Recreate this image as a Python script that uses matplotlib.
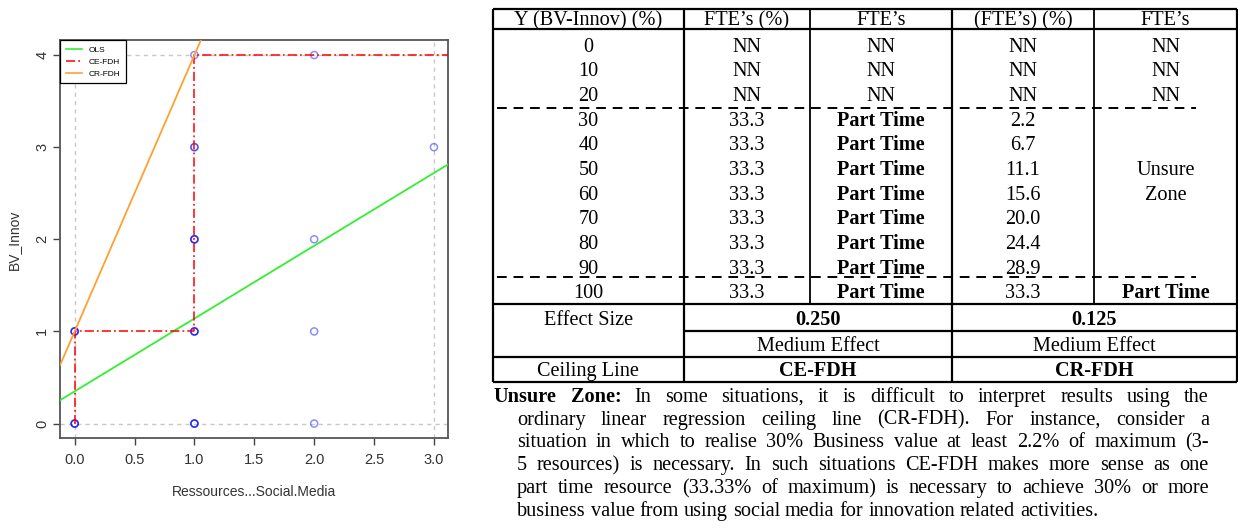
import matplotlib
matplotlib.use("Agg")
import matplotlib.pyplot as plt
from matplotlib.lines import Line2D

# ---------------- data ----------------
# scatter observations (repeats = overplotted observations)
res_x = [0, 0, 0, 0, 0, 0, 1, 1, 1, 1, 1, 1, 1, 1, 1, 1, 1, 1, 2, 2, 2, 2, 3]
bv_y  = [0, 0, 0, 1, 1, 1, 0, 0, 0, 1, 1, 1, 2, 2, 2, 3, 3, 4, 0, 1, 2, 4, 3]

ols_intercept, ols_slope = 0.35, 0.79
cr_intercept, cr_slope = 1.0, 3.0
ce_x = [0, 0, 1, 1, 3.2]
ce_y = [0, 1, 1, 4, 4]
scope_x = [0, 3]
scope_y = [0, 4]

x_ticks = [0.0, 0.5, 1.0, 1.5, 2.0, 2.5, 3.0]
y_ticks = [0, 1, 2, 3, 4]

# table
headers = ["Y (BV-Innov) (%)", "FTE\u2019s (%)", "FTE\u2019s", "(FTE\u2019s) (%)", "FTE\u2019s"]
y_levels = [0, 10, 20, 30, 40, 50, 60, 70, 80, 90, 100]
ce_fte_pct = [None, None, None, 33.3, 33.3, 33.3, 33.3, 33.3, 33.3, 33.3, 33.3]
ce_fte = ["NN", "NN", "NN", "Part Time", "Part Time", "Part Time", "Part Time",
          "Part Time", "Part Time", "Part Time", "Part Time"]
cr_fte_pct = [None, None, None, 2.2, 6.7, 11.1, 15.6, 20.0, 24.4, 28.9, 33.3]
cr_fte = ["NN", "NN", "NN", "", "", "", "", "", "", "", "Part Time"]
effect_sizes = [0.250, 0.125]
effect_labels = ["Medium Effect", "Medium Effect"]
ceiling_lines = ["CE-FDH", "CR-FDH"]

note_lines = [
    "Unsure Zone: In some situations, it is difficult to interpret results using the",
    "ordinary linear regression ceiling line (CR-FDH). For instance, consider a",
    "situation in which to realise 30% Business value at least 2.2% of maximum (3-",
    "5 resources) is necessary. In such situations CE-FDH makes more sense as one",
    "part time resource (33.33% of maximum) is necessary to achieve 30% or more",
    "business value from using social media for innovation related activities.",
]

# ---------------- figure ----------------
W, H = 1238, 529
fig = plt.figure(figsize=(W / 100, H / 100), dpi=100)
fig.patch.set_facecolor("white")

SANS = ["Liberation Sans", "DejaVu Sans"]
SERIF = ["Liberation Serif", "DejaVu Serif"]

# plot axes: pixel box left 60, right 448, top 40, bottom 438
ax = fig.add_axes([60.3 / W, 1 - 438.3 / H, 388 / W, 398 / H])
ax.set_xlim(-0.12, 3.12)
ax.set_ylim(-0.16, 4.16)

for sx in scope_x:
    ax.axvline(sx, color="#c8c8c8", lw=1.0, ls=(0, (3, 3)), zorder=1)
for sy in scope_y:
    ax.axhline(sy, color="#c8c8c8", lw=1.0, ls=(0, (3, 3)), zorder=1)

ax.scatter(res_x, bv_y, s=26, facecolors="none", edgecolors="#0000ff",
           alpha=0.45, linewidths=1.1, zorder=3)

ax.axline((0, ols_intercept), slope=ols_slope, color="#33ee33", lw=1.3, zorder=4)
ax.plot(ce_x, ce_y, color="#ff0000", lw=1.1, ls=(0, (6, 2, 1.2, 2)), zorder=4)
ax.axline((0, cr_intercept), slope=cr_slope, color="#ffa033", lw=1.3, zorder=4)

ax.set_xticks(x_ticks)
ax.set_xticklabels([f"{v:.1f}" for v in x_ticks], fontfamily=SANS, fontsize=10.5, color="#333333")
ax.set_yticks(y_ticks)
ax.set_yticklabels([str(v) for v in y_ticks], fontfamily=SANS, fontsize=10.5,
                   color="#333333", rotation=90, va="center")
ax.tick_params(axis="both", length=5, width=1, color="#444444")
ax.tick_params(axis="x", pad=5.5)
ax.tick_params(axis="y", pad=3)
for sp in ax.spines.values():
    sp.set_color("#555555")
    sp.set_linewidth(1.3)

ax.set_xlabel("Ressources...Social.Media", fontfamily=SANS, fontsize=10, color="#333333")
ax.set_ylabel("BV_Innov", fontfamily=SANS, fontsize=10, color="#333333")
ax.xaxis.set_label_coords(0.5, -0.118)
ax.yaxis.set_label_coords(-0.102, 0.498)

handles = [Line2D([], [], color="#33ee33", lw=1.2),
           Line2D([], [], color="#ff0000", lw=1.1, ls=(0, (6, 2, 1.2, 2))),
           Line2D([], [], color="#ffa033", lw=1.2)]
leg = ax.legend(handles, ["OLS", "CE-FDH", "CR-FDH"], loc="upper left",
                bbox_to_anchor=(0, 1), borderaxespad=0, fancybox=False,
                edgecolor="black", framealpha=1, handlelength=2.0,
                prop={"family": SANS, "size": 6.0}, labelspacing=0.5,
                borderpad=0.65, handletextpad=0.8)
leg.get_frame().set_linewidth(0.9)

# ---------------- table overlay (pixel coordinates) ----------------
ov = fig.add_axes([0, 0, 1, 1])
ov.set_xlim(0, W)
ov.set_ylim(H, 0)
ov.axis("off")
ov.patch.set_alpha(0)

xL, c1, c2, c3, c4, xR = 492.7, 684, 810, 952, 1094, 1237
yT, yHead, y100, yMid, yCeil, yB = 9, 29, 304, 331, 357, 382

def hline(y, x0, x1, lw=1.6, ls="-"):
    ov.plot([x0, x1], [y, y], color="black", lw=lw, ls=ls, solid_capstyle="butt")

def vline(x, y0, y1, lw=1.6):
    ov.plot([x, x], [y0, y1], color="black", lw=lw, solid_capstyle="butt")

for y in (yT, yHead, y100, yCeil, yB):
    hline(y, xL, xR)
hline(yMid, c1, xR)
for x in (xL, c1, c3, xR):
    vline(x, yT, yB)
for x in (c2, c4):
    vline(x, yT, y100, lw=1.3)
hline(107.5, 497, 1196, lw=1.4, ls=(0, (5, 3.5)))
hline(277, 497, 1196, lw=1.4, ls=(0, (5, 3.5)))

FS = 14.6
BASE = 6.8  # baseline offset from visual centre (pixels)
centers = [(xL + c1) / 2, (c1 + c2) / 2, (c2 + c3) / 2, (c3 + c4) / 2, (c4 + xR) / 2]

def cell(x, y, s, bold=False):
    ov.text(x, y + BASE, s, ha="center", va="baseline", fontfamily=SERIF, fontsize=FS,
            fontweight="bold" if bold else "normal", color="black")

for cx, h in zip(centers, headers):
    cell(cx, 18.5, h)

row0, dy = 45, 24.65
for i, yl in enumerate(y_levels):
    yy = row0 + i * dy
    cell(centers[0], yy, str(yl))
    cell(centers[1], yy, "NN" if ce_fte_pct[i] is None else f"{ce_fte_pct[i]:.1f}")
    cell(centers[2], yy, ce_fte[i], bold=(ce_fte[i] != "NN"))
    cell(centers[3], yy, "NN" if cr_fte_pct[i] is None else f"{cr_fte_pct[i]:.1f}")
    if cr_fte[i]:
        cell(centers[4], yy, cr_fte[i], bold=(cr_fte[i] != "NN"))
cell(centers[4], row0 + 5 * dy, "Unsure")
cell(centers[4], row0 + 6 * dy, "Zone")

span = [(c1 + c3) / 2, (c3 + xR) / 2]
cell(centers[0], 318, "Effect Size")
for sx, es, el, cl in zip(span, effect_sizes, effect_labels, ceiling_lines):
    cell(sx, 318, f"{es:.3f}", bold=True)
    cell(sx, 344.5, el)
    cell(sx, 369.5, cl, bold=True)
cell(centers[0], 369.5, "Ceiling Line")

# ---------------- justified note ----------------
fig.canvas.draw()
renderer = fig.canvas.get_renderer()
line_y0, line_dy = 395, 22.8
right_edge = 1209
for li, line in enumerate(note_lines):
    words = line.split(" ")
    x0 = 494 if li == 0 else 517
    yy = line_y0 + li * line_dy + BASE
    objs = []
    for wi, w in enumerate(words):
        bold = (li == 0 and wi < 2)
        t = ov.text(x0, yy, w, ha="left", va="baseline", fontfamily=SERIF, fontsize=FS,
                    fontweight="bold" if bold else "normal", color="black")
        objs.append(t)
    widths = [t.get_window_extent(renderer).width for t in objs]
    total = sum(widths)
    if li < len(note_lines) - 1:
        gap = (right_edge - x0 - total) / (len(words) - 1)
    else:
        gap = 5.0
    x = x0
    for t, wdt in zip(objs, widths):
        t.set_x(x)
        x += wdt + gap

fig.savefig("out.png", dpi=100, facecolor="white")
